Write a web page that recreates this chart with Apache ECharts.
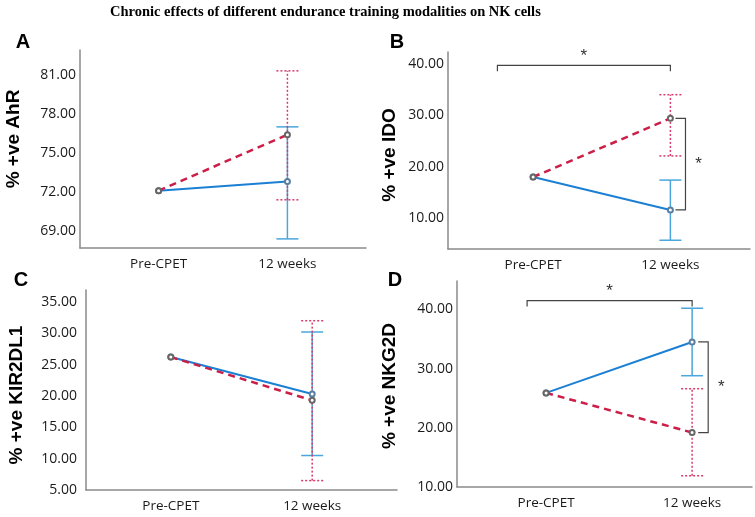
<!DOCTYPE html>
<html>
<head>
<meta charset="utf-8">
<script src="https://cdn.jsdelivr.net/npm/echarts@6/dist/echarts.min.js"></script>
<style>
html,body{margin:0;padding:0;background:#fff;}
#main{width:755px;height:517px;}
</style>
</head>
<body>
<div id="main"></div>
<script>
// categories on the x axis (plotted at 0 and 1)
var categories = ['Pre-CPET', '12 weeks'];
var panelLetters = ['A', 'B', 'C', 'D'];
var yNames = ['% +ve AhR', '% +ve IDO', '% +ve KIR2DL1', '% +ve NKG2D'];

// group means [Pre-CPET, 12 weeks]
var blueMeans = [[72.1, 72.8], [18.0, 11.6], [26.2, 20.3], [25.9, 34.5]];
var redMeans  = [[72.1, 76.4], [18.0, 29.4], [26.2, 19.3], [25.9, 19.2]];
// error bars at 12 weeks [low, high]
var blueErr = [[68.4, 77.0], [5.7, 17.4], [10.5, 30.2], [28.8, 40.2]];
var redErr  = [[71.4, 81.3], [22.1, 34.0], [6.5, 32.0], [11.9, 26.6]];

// y axis ticks and ranges
var yTicks = [[69, 72, 75, 78, 81], [10, 20, 30, 40], [5, 10, 15, 20, 25, 30, 35], [10, 20, 30, 40]];
var yMin = [67.7, 4.0, 5.0, 10.0];
var yMax = [82.9, 42.3, 36.9, 44.8];
var xMin = [-0.61, -0.62, -0.60, -0.61];
var xMax = [1.61, 1.58, 1.60, 1.41];

// significance brackets: over time (from, to, level) and between groups at 12 weeks (x)
var timeBrackets = [[1, -0.26, 1, 39.7], [3, -0.13, 1, 41.5]];
var groupBrackets = [[1, 1.11], [3, 1.11]];

var BLUE = '#1b7fd4', BLUE_ERR = '#4aa6dc', RED = '#cc1f48', RED_ERR = '#d83a6a';

var myChart = echarts.init(document.getElementById('main'));

var grids = [
    {left: 80, top: 50, width: 286, height: 198},
    {left: 448, top: 52, width: 302, height: 197},
    {left: 86, top: 290, width: 311, height: 200},
    {left: 457, top: 281, width: 295, height: 206}
];
var namePos = [[14, 139], [390, 155], [17, 395], [390, 386]];
var letterPos = [[23, 42], [397, 42], [21, 280], [395, 280]];

function errorBar(color, dash) {
    return function (params, api) {
        var x = api.value(0);
        var lo = api.coord([x, api.value(1)]);
        var hi = api.coord([x, api.value(2)]);
        var w = 11;
        var st = {stroke: color, lineWidth: 1.5, lineDash: dash};
        return {type: 'group', children: [
            {type: 'line', shape: {x1: lo[0], y1: lo[1], x2: hi[0], y2: hi[1]}, style: st},
            {type: 'line', shape: {x1: lo[0] - w, y1: lo[1], x2: lo[0] + w, y2: lo[1]}, style: st},
            {type: 'line', shape: {x1: hi[0] - w, y1: hi[1], x2: hi[0] + w, y2: hi[1]}, style: st}
        ]};
    };
}

var xAxes = [], yAxes = [], series = [], graphics = [];

for (var i = 0; i < 4; i++) {
    xAxes.push({
        gridIndex: i, type: 'value', min: xMin[i], max: xMax[i],
        axisLine: {onZero: false, lineStyle: {color: '#8a8a8a', width: 1.5}},
        axisTick: {show: false}, splitLine: {show: false},
        axisLabel: {
            customValues: [0, 1], margin: 9,
            formatter: function (v) { return categories[Math.round(v)]; },
            fontFamily: 'Open Sans', fontSize: 13.5, color: '#1a1a1a'
        }
    });
    yAxes.push({
        gridIndex: i, type: 'value', min: yMin[i], max: yMax[i],
        axisLine: {show: true, onZero: false, lineStyle: {color: '#8a8a8a', width: 1.5}},
        axisTick: {show: false}, splitLine: {show: false},
        axisLabel: {
            customValues: yTicks[i], margin: i === 2 ? 9 : 4,
            formatter: function (v) { return v.toFixed(2); },
            fontFamily: 'Open Sans', fontSize: 14, color: '#1a1a1a'
        }
    });
    series.push({
        type: 'custom', xAxisIndex: i, yAxisIndex: i, z: 1,
        renderItem: errorBar(BLUE_ERR, null),
        data: [[1, blueErr[i][0], blueErr[i][1]]]
    });
    series.push({
        type: 'custom', xAxisIndex: i, yAxisIndex: i, z: 2,
        renderItem: errorBar(RED_ERR, [2, 2]),
        data: [[1, redErr[i][0], redErr[i][1]]]
    });
    series.push({
        type: 'line', xAxisIndex: i, yAxisIndex: i, z: 3,
        data: [[0, blueMeans[i][0]], [1, blueMeans[i][1]]],
        lineStyle: {color: BLUE, width: 2},
        itemStyle: {color: '#5a7fa0', borderWidth: 1},
        symbol: 'emptyCircle', symbolSize: 5
    });
    series.push({
        type: 'line', xAxisIndex: i, yAxisIndex: i, z: 4,
        data: [[0, redMeans[i][0]], [1, redMeans[i][1]]],
        lineStyle: {color: RED, width: 2.5, type: [7, 5]},
        itemStyle: {color: '#666', borderWidth: 1},
        symbol: 'emptyCircle', symbolSize: 5
    });
    graphics.push({
        type: 'text', x: namePos[i][0], y: namePos[i][1], rotation: Math.PI / 2,
        style: {text: yNames[i], font: 'bold 19px "Liberation Sans"', fill: '#000', align: 'center', verticalAlign: 'middle'}
    });
    graphics.push({
        type: 'text', x: letterPos[i][0], y: letterPos[i][1],
        style: {text: panelLetters[i], font: 'bold 20px "Liberation Sans"', fill: '#000', align: 'center', verticalAlign: 'middle'}
    });
}

timeBrackets.forEach(function (b) {
    series.push({
        type: 'custom', xAxisIndex: b[0], yAxisIndex: b[0], z: 5,
        renderItem: function (params, api) {
            var p0 = api.coord([api.value(0), api.value(2)]);
            var p1 = api.coord([api.value(1), api.value(2)]);
            var st = {stroke: '#444', lineWidth: 1.2, fill: null};
            return {type: 'group', children: [
                {type: 'polyline', shape: {points: [[p0[0], p0[1] + 6], p0, p1, [p1[0], p1[1] + 6]]}, style: st},
                {type: 'text', x: (p0[0] + p1[0]) / 2, y: p0[1] - 9, style: {text: '*', font: '17px "Liberation Sans"', fill: '#333', align: 'center', verticalAlign: 'middle'}}
            ]};
        },
        data: [[b[1], b[2], b[3]]]
    });
});

groupBrackets.forEach(function (b) {
    var k = b[0];
    series.push({
        type: 'custom', xAxisIndex: k, yAxisIndex: k, z: 5,
        renderItem: function (params, api) {
            var x = api.value(0);
            var pa = api.coord([x, api.value(1)]);
            var pb = api.coord([x, api.value(2)]);
            var st = {stroke: '#444', lineWidth: 1.2, fill: null};
            return {type: 'group', children: [
                {type: 'polyline', shape: {points: [[pa[0] - 10, pa[1]], pa, pb, [pb[0] - 10, pb[1]]]}, style: st},
                {type: 'text', x: pa[0] + 13, y: (pa[1] + pb[1]) / 2, style: {text: '*', font: '17px "Liberation Sans"', fill: '#333', align: 'center', verticalAlign: 'middle'}}
            ]};
        },
        data: [[b[1], redMeans[k][1], blueMeans[k][1]]]
    });
});

var option = {
    backgroundColor: '#fff',
    animation: false,
    title: {
        text: 'Chronic effects of different endurance training modalities on NK cells',
        left: 105, top: 0,
        textStyle: {fontFamily: 'Liberation Serif', fontWeight: 'bold', fontSize: 14.5, color: '#000'}
    },
    grid: grids,
    xAxis: xAxes,
    yAxis: yAxes,
    series: series,
    graphic: graphics
};

myChart.setOption(option);

window.onresize = function () {
    myChart.resize();
};
</script>
</body>
</html>
